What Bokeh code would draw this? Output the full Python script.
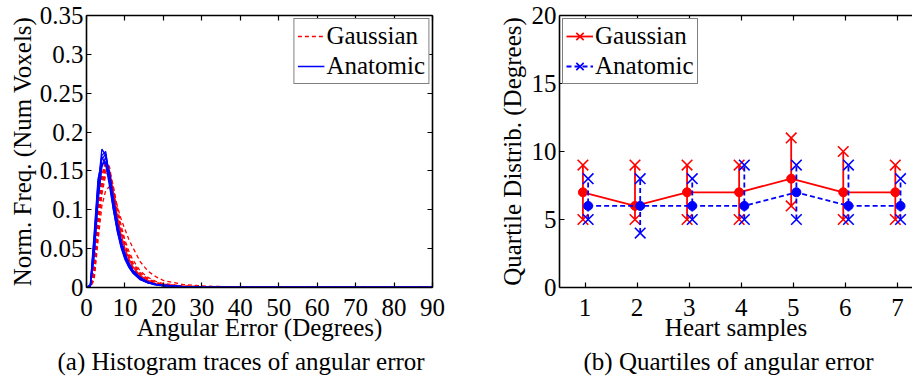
from bokeh.plotting import figure
from bokeh.models import (LinearAxis, FixedTicker, CustomJSTickFormatter, Legend,
                          LegendItem, Title, Range1d)
from bokeh.layouts import row
from bokeh.embed import file_html
from bokeh.resources import INLINE

FONT = "'Liberation Serif', 'Times New Roman', serif"
FS = "25px"
RED = "#ff0000"
BLUE = "#0000ff"

# ---------------- data: (a) histogram traces ----------------
angle_bins = [0, 1, 2, 3, 4, 5, 6, 7, 8, 9, 10, 11, 12, 14, 16, 18, 20, 25, 30, 40, 90]

gauss_traces = [
    [0, 0, 0.020, 0.080, 0.130, 0.155, 0.150, 0.125, 0.095, 0.072, 0.054, 0.040, 0.030, 0.017, 0.010, 0.006, 0.004, 0.002, 0.001, 0.0003, 0],
    [0, 0, 0.015, 0.070, 0.120, 0.145, 0.150, 0.130, 0.104, 0.080, 0.061, 0.047, 0.036, 0.021, 0.013, 0.008, 0.005, 0.002, 0.001, 0.0003, 0],
    [0, 0, 0.030, 0.100, 0.145, 0.162, 0.148, 0.118, 0.088, 0.064, 0.047, 0.034, 0.025, 0.014, 0.008, 0.005, 0.003, 0.001, 0.0005, 0.0002, 0],
    [0, 0, 0.010, 0.060, 0.105, 0.125, 0.130, 0.120, 0.105, 0.088, 0.075, 0.062, 0.052, 0.033, 0.021, 0.014, 0.009, 0.004, 0.002, 0.0005, 0],
    [0, 0, 0.025, 0.090, 0.140, 0.165, 0.155, 0.125, 0.094, 0.069, 0.050, 0.037, 0.027, 0.015, 0.009, 0.005, 0.003, 0.001, 0.0005, 0.0002, 0],
    [0, 0, 0.020, 0.085, 0.135, 0.158, 0.150, 0.122, 0.092, 0.068, 0.050, 0.037, 0.027, 0.015, 0.009, 0.005, 0.003, 0.001, 0.0005, 0.0002, 0],
    [0, 0, 0.018, 0.075, 0.125, 0.150, 0.148, 0.126, 0.098, 0.075, 0.057, 0.043, 0.032, 0.019, 0.011, 0.007, 0.004, 0.002, 0.001, 0.0003, 0],
]

anat_traces = [
    [0, 0.002, 0.060, 0.130, 0.178, 0.170, 0.135, 0.100, 0.072, 0.051, 0.036, 0.026, 0.019, 0.010, 0.006, 0.004, 0.002, 0.001, 0.0005, 0.0002, 0],
    [0, 0.004, 0.070, 0.140, 0.160, 0.160, 0.138, 0.105, 0.078, 0.056, 0.040, 0.029, 0.021, 0.012, 0.007, 0.004, 0.003, 0.001, 0.0005, 0.0002, 0],
    [0, 0.001, 0.050, 0.120, 0.165, 0.172, 0.142, 0.108, 0.078, 0.055, 0.039, 0.028, 0.020, 0.011, 0.006, 0.004, 0.002, 0.001, 0.0005, 0.0002, 0],
    [0, 0.001, 0.040, 0.110, 0.155, 0.168, 0.148, 0.115, 0.085, 0.060, 0.043, 0.031, 0.022, 0.012, 0.007, 0.004, 0.003, 0.001, 0.0005, 0.0002, 0],
    [0, 0.002, 0.055, 0.125, 0.170, 0.175, 0.140, 0.103, 0.074, 0.053, 0.038, 0.027, 0.019, 0.010, 0.006, 0.003, 0.002, 0.001, 0.0005, 0.0002, 0],
    [0, 0.001, 0.045, 0.115, 0.158, 0.162, 0.145, 0.112, 0.083, 0.060, 0.044, 0.032, 0.023, 0.013, 0.007, 0.004, 0.003, 0.001, 0.0005, 0.0002, 0],
    [0, 0.003, 0.065, 0.135, 0.168, 0.158, 0.130, 0.100, 0.075, 0.055, 0.040, 0.029, 0.021, 0.012, 0.007, 0.004, 0.003, 0.001, 0.0005, 0.0002, 0],
]

hist_xticks = [0, 10, 20, 30, 40, 50, 60, 70, 80, 90]
hist_yticks = [0, 0.05, 0.1, 0.15, 0.2, 0.25, 0.3, 0.35]

# ---------------- data: (b) quartiles ----------------
samples = [1, 2, 3, 4, 5, 6, 7]
gauss_q1 = [5, 5, 5, 5, 6, 5, 5]
gauss_med = [7, 6, 7, 7, 8, 7, 7]
gauss_q3 = [9, 9, 9, 9, 11, 10, 9]
anat_q1 = [5, 4, 5, 5, 5, 5, 5]
anat_med = [6, 6, 6, 6, 7, 6, 6]
anat_q3 = [8, 8, 8, 9, 9, 9, 8]
quart_yticks = [0, 5, 10, 15, 20]
gauss_shift = -0.04
anat_shift = 0.06

blank = CustomJSTickFormatter(code="return '';")


def style_axis(ax, ticks, show_labels=True):
    ax.ticker = FixedTicker(ticks=ticks)
    ax.axis_line_width = 1.6
    ax.axis_line_color = "black"
    ax.major_tick_in = 5
    ax.major_tick_out = 0
    ax.major_tick_line_width = 1.2
    ax.minor_tick_line_color = None
    ax.major_label_text_font = FONT
    ax.major_label_text_color = "black"
    ax.axis_label_text_font = FONT
    ax.axis_label_text_font_size = FS
    ax.axis_label_text_font_style = "normal"
    ax.axis_label_text_color = "black"
    if show_labels:
        ax.major_label_text_font_size = FS
    else:
        ax.formatter = blank
        ax.major_label_text_font_size = "2px"
        ax.major_label_standoff = 0


def caption(text, offset):
    return Title(text=text, align="left", offset=offset, text_font=FONT,
                 text_font_size=FS, text_font_style="normal", text_color="black",
                 standoff=4)


fmt = CustomJSTickFormatter(code="return (Math.round(tick*100)/100).toString();")

# ---------------- figure (a) ----------------
p1 = figure(frame_width=346, frame_height=272, x_range=Range1d(0, 90), y_range=Range1d(0, 0.35),
            output_backend="svg", toolbar_location=None,
            min_border_left=86, min_border_right=18, min_border_top=15, min_border_bottom=10)
p1.grid.visible = False
p1.outline_line_color = None

g_rends = []
for tr in gauss_traces:
    g_rends.append(p1.line(angle_bins, tr, line_color=RED, line_width=1.3, line_dash="4 3"))
a_rends = []
for tr in anat_traces:
    a_rends.append(p1.line(angle_bins, tr, line_color=BLUE, line_width=1.3))

style_axis(p1.xaxis[0], hist_xticks)
style_axis(p1.yaxis[0], hist_yticks)
p1.yaxis[0].formatter = fmt
p1.xaxis[0].axis_label = "Angular Error (Degrees)"
p1.yaxis[0].axis_label = "Norm. Freq. (Num Voxels)"
p1.xaxis[0].major_label_standoff = 11
p1.xaxis[0].axis_label_standoff = -5
p1.yaxis[0].major_label_standoff = 3
p1.yaxis[0].axis_label_standoff = 1

top1 = LinearAxis()
style_axis(top1, hist_xticks, show_labels=False)
p1.add_layout(top1, "above")
right1 = LinearAxis()
style_axis(right1, hist_yticks, show_labels=False)
p1.add_layout(right1, "right")

leg1 = Legend(items=[LegendItem(label="Gaussian", renderers=[g_rends[0]]),
                     LegendItem(label="Anatomic", renderers=[a_rends[0]])],
              location="top_right")
p1.add_layout(leg1)
p1.add_layout(caption("(a) Histogram traces of angular error", -29), "below")

# ---------------- figure (b) ----------------
p2 = figure(frame_width=353, frame_height=272, x_range=Range1d(0.51, 7.29), y_range=Range1d(0, 20),
            output_backend="svg", toolbar_location=None,
            min_border_left=109, min_border_right=0, min_border_top=15, min_border_bottom=10)
p2.grid.visible = False
p2.outline_line_color = None

gx = [s + gauss_shift for s in samples]
ax_ = [s + anat_shift for s in samples]

XS = 15
p2.segment(gx, gauss_q1, gx, gauss_q3, line_color=RED, line_width=1.8)
g_line = p2.line(gx, gauss_med, line_color=RED, line_width=1.8)
g_q1 = p2.scatter(gx, gauss_q1, marker="x", size=XS, line_color=RED, line_width=1.6)
g_q3 = p2.scatter(gx, gauss_q3, marker="x", size=XS, line_color=RED, line_width=1.6)
p2.scatter(gx, gauss_med, marker="circle", size=9, color=RED)

p2.segment(ax_, anat_q1, ax_, anat_q3, line_color=BLUE, line_width=1.8, line_dash="5 3")
a_line = p2.line(ax_, anat_med, line_color=BLUE, line_width=1.8, line_dash="5 3")
a_q1 = p2.scatter(ax_, anat_q1, marker="x", size=XS, line_color=BLUE, line_width=1.6)
a_q3 = p2.scatter(ax_, anat_q3, marker="x", size=XS, line_color=BLUE, line_width=1.6)
p2.scatter(ax_, anat_med, marker="circle", size=9, color=BLUE)

style_axis(p2.xaxis[0], samples)
style_axis(p2.yaxis[0], quart_yticks)
p2.xaxis[0].axis_label = "Heart samples"
p2.yaxis[0].axis_label = "Quartile Distrib. (Degrees)"
p2.xaxis[0].major_label_standoff = 11
p2.xaxis[0].axis_label_standoff = -5
p2.yaxis[0].major_label_standoff = 3
p2.yaxis[0].axis_label_standoff = 3

top2 = LinearAxis()
style_axis(top2, samples, show_labels=False)
p2.add_layout(top2, "above")

leg2 = Legend(items=[LegendItem(label="Gaussian", renderers=[g_line, g_q1]),
                     LegendItem(label="Anatomic", renderers=[a_line, a_q1])],
              location="top_left")
p2.add_layout(leg2)
p2.add_layout(caption("(b) Quartiles of angular error", 24), "below")

for lg in (leg1, leg2):
    lg.label_text_font = FONT
    lg.label_text_font_size = FS
    lg.label_text_color = "black"
    lg.border_line_color = "black"
    lg.border_line_width = 1.4
    lg.background_fill_alpha = 1
    lg.margin = 3
    lg.padding = 3
    lg.spacing = 2
    lg.glyph_width = 27
    lg.glyph_height = 26
    lg.label_height = 26
    lg.label_standoff = 2

layout = row(p1, p2, spacing=0)
open("out.html", "w").write(file_html(layout, INLINE))
